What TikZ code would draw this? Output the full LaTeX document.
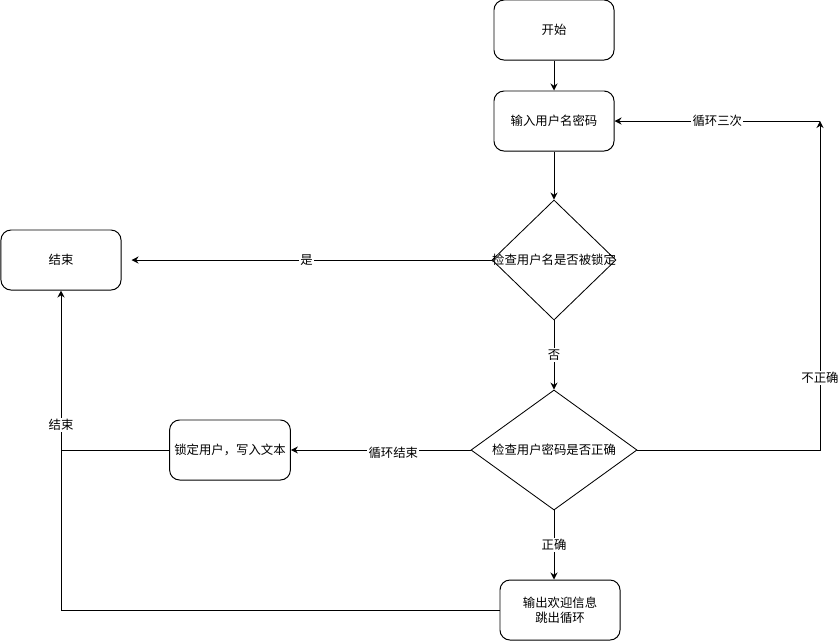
\documentclass[tikz,border=0pt]{standalone}
\usepackage{fontspec}
\newfontfamily\cjk{Noto Sans CJK SC}
\usepackage{tikz}
\usetikzlibrary{arrows.meta,positioning,shapes.geometric}

\begin{document}
\begin{tikzpicture}[
    x=0.025cm,
    y=-0.025cm,
    >={Stealth[length=5pt,width=5pt]},
    font=\cjk\fontsize{8.8}{11}\selectfont
]

\tikzset{
    box/.style={
        rounded corners=0.25cm,
        draw=black,
        line width=0.7pt,
        fill=white,
        minimum width=3cm,
        minimum height=1.5cm,
        align=center
    },
    decide/.style={
        diamond,
        draw=black,
        line width=0.6pt,
        fill=white,
        inner sep=0pt,
        minimum height=3cm
    },
    lbl/.style={
        fill=white,
        inner sep=1pt,
        font=\cjk\fontsize{8.8}{11}\selectfont
    },
    conn/.style={
        line width=0.7pt
    }
}

\useasboundingbox (0,0) rectangle (839,641);

\node[box] (start) at (554,30) {开始};

\node[box] (input) at (554,121) {输入用户名密码};

\node[
    decide,
    minimum width=3.1cm,
    label=center:{检查用户名是否被锁定}
] (lockq) at (554,260) {};

\node[
    decide,
    minimum width=4.15cm,
    label=center:{检查用户密码是否正确}
] (pwdq) at (554,450) {};

\node[box] (finish) at (61,260) {结束};

\node[box] (lock) at (230,450) {锁定用户，写入文本};

\node[box] (welcome) at (560,610) {输出欢迎信息\\跳出循环};

\coordinate (corner) at (820,121);
\coordinate (join) at (62,450);

\draw[->,conn]
(start)--(input);

\draw[->,conn]
(input)--(lockq);

\draw[->,conn,shorten >=0.25cm]
(lockq.west)--node[lbl]{是}(finish.east);

\draw[->,conn]
(lockq.south)--node[lbl]{否}(pwdq.north);

\draw[->,conn]
(pwdq.south)--node[lbl]{正确}(welcome.north -| pwdq.south);

\draw[->,conn]
(pwdq.west)--node[lbl,pos=0.43,yshift=-2pt]{循环结束}(lock.east);

\draw[->,conn]
(pwdq.east)-|node[lbl,pos=0.61]{不正确}(corner);

\draw[->,conn]
(corner)--node[lbl]{循环三次}(input.east);

\draw[conn]
(lock.west)--(join);

\draw[->,conn]
(welcome.west)-|node[lbl,pos=0.79]{结束}(finish.south);

\end{tikzpicture}
\end{document}
